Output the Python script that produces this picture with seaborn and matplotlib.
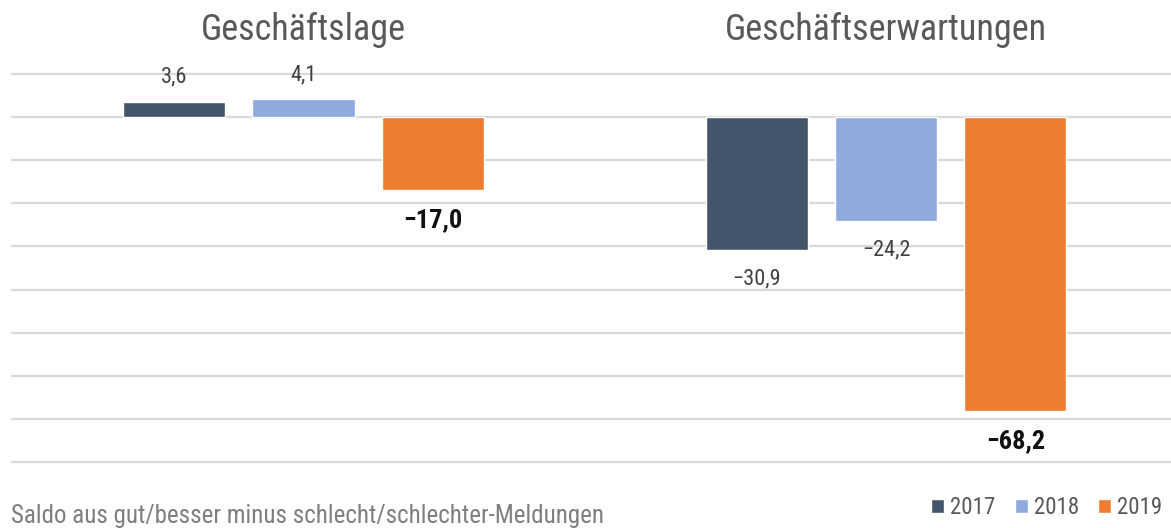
import matplotlib
matplotlib.use('Agg')
import matplotlib.pyplot as plt
import matplotlib.transforms as mtransforms
from matplotlib import font_manager
import pandas as pd
import seaborn as sns

# Daten
categories = ['Geschäftslage', 'Geschäftserwartungen']
years = ['2017', '2018', '2019']
values_2017 = [3.6, -30.9]
values_2018 = [4.1, -24.2]
values_2019 = [-17.0, -68.2]

colors = ['#44546A', '#8FAADC', '#ED7D31']

df = pd.DataFrame({
    'kategorie': categories * 3,
    'jahr': [y for y in years for _ in categories],
    'saldo': values_2017 + values_2018 + values_2019,
})

sns.set_style('white')
installed = {f.name for f in font_manager.fontManager.ttflist}
wanted = ['Roboto Condensed', 'Open Sans Condensed', 'Liberation Sans Narrow',
          'Roboto', 'DejaVu Sans']
plt.rcParams['font.family'] = [f for f in wanted if f in installed]

fig = plt.figure(figsize=(11.71, 5.28), dpi=100)
ax = fig.add_axes([12.25 / 1171, 66 / 528, 1165 / 1171, 388 / 528])

sns.barplot(data=df, x='kategorie', y='saldo', hue='jahr', order=categories,
            hue_order=years, palette=colors, width=0.666, gap=0.21,
            saturation=1, ax=ax, legend=True)

ax.set_ylim(-80, 10)
ax.set_xlim(-0.5, 1.5)
ax.set_yticks(range(-80, 11, 10))
ax.grid(axis='y', color='#D9D9D9', lw=1.6)
for gl in ax.get_ygridlines():
    gl.set_clip_on(False)
ax.set_axisbelow(True)
ax.tick_params(left=False, bottom=False, labelleft=False, labelbottom=False)
ax.set_xlabel('')
ax.set_ylabel('')
sns.despine(ax=ax, left=True, bottom=True, top=True, right=True)


def fmt(v):
    s = f'{abs(v):.1f}'.replace('.', ',')
    return ('\u2212' + s) if v < 0 else s


# Werte: positive oberhalb, negative unterhalb der Balken
for cont, year in zip(ax.containers, years):
    vals = [b.get_height() for b in cont]
    pos = [fmt(v) if v >= 0 else '' for v in vals]
    neg = [fmt(v) if v < 0 else '' for v in vals]
    if year == '2019':
        style = dict(fontsize=19, fontweight='bold', color='#111111')
        ax.bar_label(cont, labels=neg, padding=13, **style)
    else:
        style = dict(fontsize=16, color='#404040')
        ax.bar_label(cont, labels=pos, padding=10, **style)
        ax.bar_label(cont, labels=neg, padding=13, **style)

# Titel über den Gruppen
trans = mtransforms.blended_transform_factory(ax.transData, ax.transAxes)
for i, cat in enumerate(categories):
    ax.text(i, 1.113, cat, transform=trans, ha='center', va='center',
            fontsize=26, color='#595959')

# Legende unten rechts
handles, labels = ax.get_legend_handles_labels()
ax.legend_.remove()
fig.legend(handles, labels, loc='center right', bbox_to_anchor=(1.002, 0.039),
           ncol=3, frameon=False, fontsize=16.5, handlelength=0.57,
           handleheight=0.57, handletextpad=0.26, columnspacing=0.83,
           borderpad=0, labelcolor='#595959')

fig.text(0.0094, 0.022, 'Saldo aus gut/besser minus schlecht/schlechter-Meldungen',
         ha='left', va='center', fontsize=18, color='#7F7F7F')

fig.savefig('out.png', dpi=100)
